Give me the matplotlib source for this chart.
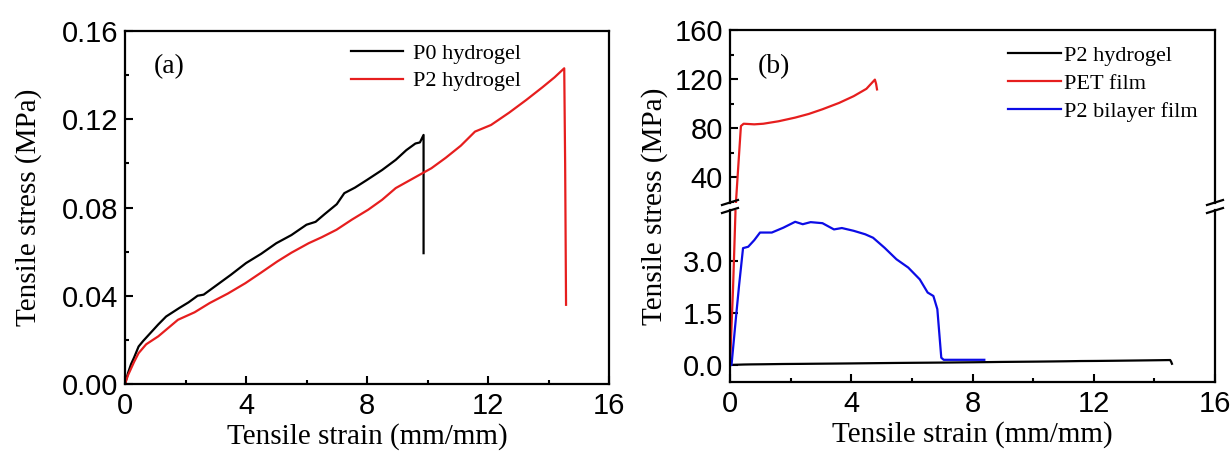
import numpy as np
import matplotlib
matplotlib.use('Agg')
import matplotlib.pyplot as plt
from matplotlib.lines import Line2D
from matplotlib.ticker import MultipleLocator, FormatStrFormatter

# ---- data ----
# (a) hydrogels
p0_strain = [0, 0.1, 0.2, 0.3, 0.45, 0.6, 0.84, 1.1, 1.36, 1.8, 2.1, 2.4, 2.6, 3.0, 3.5, 4.0, 4.5,
             5.0, 5.5, 6.0, 6.3, 6.6, 7.0, 7.25, 7.6, 8.0, 8.5, 8.95, 9.3, 9.6, 9.75, 9.87, 9.87]
p0_stress = [0, 0.005, 0.009, 0.012, 0.017, 0.0195, 0.0231, 0.027, 0.0306, 0.0345, 0.037, 0.040,
             0.0405, 0.0445, 0.0495, 0.0548, 0.059, 0.0638, 0.0675, 0.0722, 0.0735, 0.077, 0.0815,
             0.0865, 0.089, 0.0925, 0.097, 0.1016, 0.106, 0.109, 0.1095, 0.1129, 0.0593]
p2_strain = [0, 0.1, 0.2, 0.3, 0.45, 0.7, 1.1, 1.75, 2.3, 2.8, 3.4, 3.98, 4.5, 5.03, 5.5, 6.07, 6.5,
             6.99, 7.5, 8.04, 8.5, 8.95, 9.5, 10.13, 10.6, 11.1, 11.57, 12.1, 12.7, 13.27, 13.8,
             14.2, 14.52, 14.55, 14.58]
p2_stress = [0, 0.004, 0.007, 0.010, 0.014, 0.018, 0.0216, 0.0291, 0.0325, 0.0367, 0.041, 0.0457,
             0.0505, 0.0555, 0.0595, 0.0638, 0.0665, 0.0699, 0.0745, 0.079, 0.0835, 0.0888, 0.093,
             0.0978, 0.1025, 0.108, 0.1144, 0.1174, 0.123, 0.1288, 0.1345, 0.139, 0.1431, 0.10, 0.0359]

# (b) films
pet_strain = [0, 0.1, 0.18, 0.19, 0.25, 0.36, 0.45, 0.8, 1.1, 1.6, 2.15, 2.6, 3.05, 3.6, 4.08,
              4.5, 4.78, 4.82, 4.85]
pet_stress = [0, 2.2, 4.4, 17, 40, 81.6, 83.5, 83, 83.5, 85.5, 88.5, 91.5, 95.3, 100.5, 106,
              112, 119.5, 116, 111.5]
bi_strain = [0, 0.05, 0.2, 0.3, 0.43, 0.6, 0.8, 0.99, 1.38, 1.76, 2.15, 2.4, 2.66, 3.05, 3.43,
             3.69, 4.08, 4.46, 4.72, 5.1, 5.49, 5.88, 6.26, 6.52, 6.71, 6.84, 6.97, 7.05, 7.5, 8.39]
bi_stress = [0, 0, 1.4, 2.3, 3.37, 3.41, 3.6, 3.82, 3.82, 3.96, 4.13, 4.06, 4.12, 4.09, 3.91,
             3.95, 3.87, 3.77, 3.67, 3.38, 3.05, 2.81, 2.47, 2.09, 1.99, 1.61, 0.21, 0.15, 0.15, 0.15]

RED = '#e61e1e'
BLUE = '#0c0ce6'
SERIF = 'Liberation Serif'
SANS = 'Liberation Sans'
W, H = 1231, 453

plt.rcParams['font.family'] = SANS
plt.rcParams['axes.linewidth'] = 1.6

fig = plt.figure(figsize=(W / 100, H / 100), dpi=100)


def px_axes(x0, y0, x1, y1):
    # image pixel box (y down) -> figure axes
    return fig.add_axes([x0 / W, 1 - y1 / H, (x1 - x0) / W, (y1 - y0) / H])


def style(ax, bottom=True):
    ax.tick_params(which='both', direction='in', top=False, right=False, width=1.5,
                   labelsize=21)
    ax.tick_params(which='major', length=6)
    ax.tick_params(which='minor', length=3)
    ax.tick_params(axis='y', pad=5)
    ax.tick_params(axis='x', pad=6)
    if not bottom:
        ax.tick_params(axis='x', which='both', bottom=False, labelbottom=False)


# ---- (a) ----
axa = px_axes(125, 31, 609, 384)
axa.plot(p0_strain, p0_stress, color='black', lw=1.6, label='P0 hydrogel')
axa.plot(p2_strain, p2_stress, color=RED, lw=1.6, label='P2 hydrogel')
axa.set_xlim(0, 16)
axa.set_ylim(0, 0.16)
axa.xaxis.set_major_locator(MultipleLocator(4))
axa.xaxis.set_minor_locator(MultipleLocator(2))
axa.yaxis.set_major_locator(MultipleLocator(0.04))
axa.yaxis.set_minor_locator(MultipleLocator(0.02))
axa.yaxis.set_major_formatter(FormatStrFormatter('%.2f'))
style(axa)
axa.set_xlabel('Tensile strain (mm/mm)', family=SERIF, fontsize=21, labelpad=2)
axa.set_ylabel('Tensile stress (MPa)', family=SERIF, fontsize=21, labelpad=14)
axa.text(0.06, 0.90, '(a)', transform=axa.transAxes, family=SERIF, fontsize=20, va='center')
axa.legend(loc='upper left', bbox_to_anchor=(0.467, 0.964), frameon=False,
           prop={'family': SERIF, 'size': 16}, handlelength=2.35, handletextpad=0.45,
           borderpad=0, borderaxespad=0, labelspacing=0.3)

# ---- (b) broken axis ----
axt = px_axes(730, 30, 1215, 203)
axb = px_axes(730, 210, 1215, 382)
for ax in (axt, axb):
    ax.plot(p2_strain, p2_stress, color='black', lw=1.6, label='P2 hydrogel')
    ax.plot(pet_strain, pet_stress, color=RED, lw=1.6, label='PET film')
    ax.plot(bi_strain, bi_stress, color=BLUE, lw=1.6, label='P2 bilayer film')
    ax.set_xlim(0, 16)
    ax.xaxis.set_major_locator(MultipleLocator(4))
    ax.xaxis.set_minor_locator(MultipleLocator(2))
axt.set_ylim(18.8, 160)
axb.set_ylim(-0.49, 4.47)
axt.yaxis.set_major_locator(MultipleLocator(40))
axt.yaxis.set_minor_locator(MultipleLocator(20))
axb.yaxis.set_major_locator(MultipleLocator(1.5))
axb.yaxis.set_major_formatter(FormatStrFormatter('%.1f'))
axt.spines['bottom'].set_visible(False)
axb.spines['top'].set_visible(False)
style(axt, bottom=False)
style(axb)
axb.set_xlabel('Tensile strain (mm/mm)', family=SERIF, fontsize=21, labelpad=2)
fig.text(655 / W, 1 - 206 / H, 'Tensile stress (MPa)', family=SERIF, fontsize=21,
         rotation=90, ha='center', va='center')
axt.text(0.058, 0.79, '(b)', transform=axt.transAxes, family=SERIF, fontsize=20, va='center')
axt.legend(loc='upper left', bbox_to_anchor=(0.573, 0.912), frameon=False,
           prop={'family': SERIF, 'size': 16}, handlelength=2.4, handletextpad=0.12,
           borderpad=0, borderaxespad=0, labelspacing=0.335)

# break marks
for xs in (730, 1215):
    for ys in (202.5, 210.5):
        fig.add_artist(Line2D([(xs - 8) / W, (xs + 8) / W],
                              [1 - (ys + 2.5) / H, 1 - (ys - 2.5) / H],
                              color='black', lw=1.6))

fig.savefig('out.png', dpi=100)
